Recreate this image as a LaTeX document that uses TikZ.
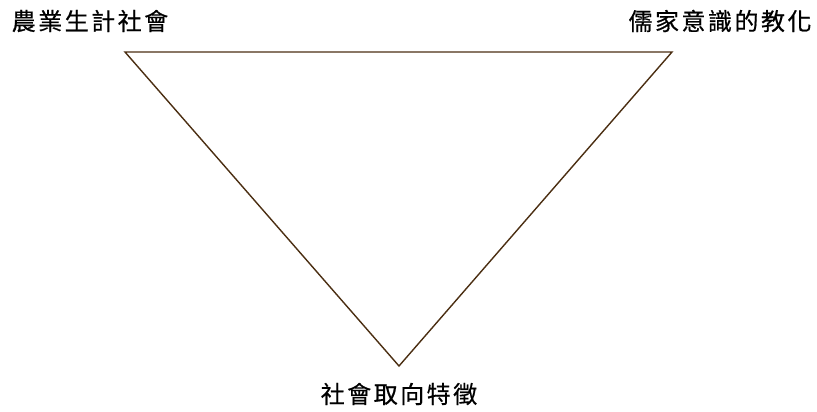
\documentclass[tikz,border=0pt]{standalone}
\usepackage{fontspec}
\newfontfamily\cjk[FakeBold=0.6]{Noto Sans CJK TC}
\definecolor{edgebrown}{HTML}{4B2E12}
\newcommand{\gp}{\kern2.5pt}
\begin{document}
\begin{tikzpicture}[x=1pt,y=-1pt,
  lbl/.style={inner sep=0pt,font=\cjk\fontsize{24}{28}\selectfont,text=black},
  edge/.style={draw=edgebrown,line width=1.4pt,line join=miter}]
\useasboundingbox (0,0) rectangle (817,412);
\coordinate (tl) at (125,52);
\coordinate (tr) at (672,52);
\coordinate (bt) at (399,366);
\draw[edge] (tl) -- (tr) -- (bt) -- cycle;
\node[lbl] (a) at (90,21) {農\gp 業\gp 生\gp 計\gp 社\gp 會};
\node[lbl] (b) at (720,21) {儒\gp 家\gp 意\gp 識\gp 的\gp 教\gp 化};
\node[lbl] (c) at (399,394) {社\gp 會\gp 取\gp 向\gp 特\gp 徵};
\end{tikzpicture}
\end{document}
